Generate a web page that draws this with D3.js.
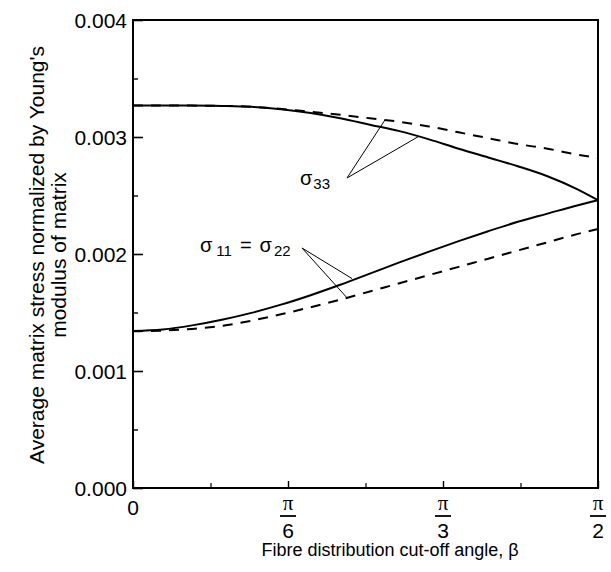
<!DOCTYPE html>
<html><head><meta charset="utf-8">
<script src="https://cdn.jsdelivr.net/npm/d3@7"></script>
<style>
body{margin:0;background:#fff;}
text{font-family:"Liberation Sans",Arial,Helvetica,sans-serif;fill:#000;}
</style></head>
<body><svg id="c" width="611" height="572"></svg>
<script>
// beta in radians, normalized stress
const s33SolidBeta = [0, 0.2, 0.3, 0.4, 0.5, 0.6, 0.7, 0.8, 0.9, 1.0, 1.1, 1.2, 1.3, 1.4, 1.5, 1.5708];
const s33SolidVal  = [0.00327, 0.00327, 0.003266, 0.003258, 0.003238, 0.003205, 0.00316, 0.003105, 0.00305, 0.00298, 0.0029, 0.002825, 0.00275, 0.002665, 0.002555, 0.00246];
const s33DashBeta  = [0, 0.3, 0.45, 0.574, 0.70, 0.80, 0.90, 1.0, 1.1, 1.2, 1.3, 1.4, 1.5, 1.5708];
const s33DashVal   = [0.00327, 0.003266, 0.00325, 0.003222, 0.00319, 0.00316, 0.00313, 0.00309, 0.00304, 0.00299, 0.00294, 0.00290, 0.00285, 0.00282];
const s11SolidBeta = [0, 0.1, 0.2, 0.3, 0.4, 0.5, 0.6, 0.7, 0.8, 0.9, 1.0, 1.1, 1.2, 1.3, 1.4, 1.5, 1.5708];
const s11SolidVal  = [0.001342, 0.001355, 0.00139, 0.001438, 0.001497, 0.001567, 0.001648, 0.001737, 0.001832, 0.001928, 0.00202, 0.00211, 0.002195, 0.002275, 0.002345, 0.002415, 0.00246];
const s11DashBeta  = [0, 0.1, 0.2, 0.3, 0.4, 0.5, 0.6, 0.7, 0.8, 0.9, 1.0, 1.1, 1.2, 1.3, 1.4, 1.5, 1.5708];
const s11DashVal   = [0.00134, 0.001345, 0.00136, 0.001385, 0.00143, 0.001485, 0.001545, 0.00161, 0.00168, 0.00175, 0.00182, 0.00189, 0.00196, 0.00203, 0.0021, 0.00217, 0.002214];
const yTicks = [0, 0.001, 0.002, 0.003, 0.004];
const yTickLabels = ["0.000", "0.001", "0.002", "0.003", "0.004"];
const yMinor = [0.0005, 0.0015, 0.0025, 0.0035];
const xTicks = [0, Math.PI/6, Math.PI/3, Math.PI/2];
const xTickDen = ["", "6", "3", "2"];
const xMinor = [Math.PI/12, Math.PI/4, 5*Math.PI/12];
const xLabel = "Fibre distribution cut-off angle, β";
const yLabel1 = "Average matrix stress normalized by Young's";
const yLabel2 = "modulus of matrix";

const svg = d3.select("#c");
const L = 133, R = 598, T = 20, B = 488;
const x = d3.scaleLinear().domain([0, Math.PI/2]).range([L, R]);
const y = d3.scaleLinear().domain([0, 0.004]).range([B, T]);

// frame
svg.append("rect").attr("x", L).attr("y", T).attr("width", R-L).attr("height", B-T)
  .attr("fill", "none").attr("stroke", "#000").attr("stroke-width", 2);

// y axis ticks (inward)
const yAx = svg.append("g").attr("transform", `translate(${L},0)`)
  .call(d3.axisRight(y).tickValues(yTicks).tickSize(10).tickFormat(""));
yAx.select(".domain").remove();
yAx.selectAll("line").attr("stroke-width", 1.6);
const yAxm = svg.append("g").attr("transform", `translate(${L},0)`)
  .call(d3.axisRight(y).tickValues(yMinor).tickSize(5).tickFormat(""));
yAxm.select(".domain").remove();
yAxm.selectAll("line").attr("stroke-width", 1.4);
svg.selectAll(".ylab").data(yTicks).enter().append("text")
  .attr("x", L-6).attr("y", d => y(d)).attr("dy", "0.36em")
  .attr("text-anchor", "end").attr("font-size", 21).text((d, i) => yTickLabels[i]);

// x axis ticks (inward)
const xAx = svg.append("g").attr("transform", `translate(0,${B})`)
  .call(d3.axisTop(x).tickValues(xTicks).tickSize(7).tickFormat(""));
xAx.select(".domain").remove();
xAx.selectAll("line").attr("stroke-width", 1.4);
const xAxm = svg.append("g").attr("transform", `translate(0,${B})`)
  .call(d3.axisTop(x).tickValues(xMinor).tickSize(5).tickFormat(""));
xAxm.select(".domain").remove();
xAxm.selectAll("line").attr("stroke-width", 1.2);

// x tick labels
svg.append("text").attr("x", x(0)).attr("y", 515).attr("text-anchor", "middle")
  .attr("font-size", 21).text("0");
xTicks.forEach((t, i) => {
  if (i === 0) return;
  const g = svg.append("g");
  g.append("text").attr("x", x(t)).attr("y", 510).attr("text-anchor", "middle")
    .attr("font-size", 21).style("font-family", "'Liberation Serif','DejaVu Serif',serif").text("π");
  g.append("line").attr("x1", x(t)-8).attr("x2", x(t)+8).attr("y1", 516).attr("y2", 516)
    .attr("stroke", "#000").attr("stroke-width", 1.8);
  g.append("text").attr("x", x(t)).attr("y", 538).attr("text-anchor", "middle")
    .attr("font-size", 21).text(xTickDen[i]);
});

// axis labels
svg.append("text").attr("x", 390).attr("y", 556).attr("text-anchor", "middle")
  .attr("font-size", 18).text(xLabel);
svg.append("text").attr("transform", "translate(44,255) rotate(-90)")
  .attr("text-anchor", "middle").attr("font-size", 21).text(yLabel1);
svg.append("text").attr("transform", "translate(66,255) rotate(-90)")
  .attr("text-anchor", "middle").attr("font-size", 21).text(yLabel2);

// curves
const line = d3.line().x(d => x(d[0])).y(d => y(d[1])).curve(d3.curveMonotoneX);
const series = [
  [s33SolidBeta, s33SolidVal, false],
  [s33DashBeta, s33DashVal, true],
  [s11SolidBeta, s11SolidVal, false],
  [s11DashBeta, s11DashVal, true]
];
series.forEach(([b, v, dash]) => {
  svg.append("path").datum(b.map((d, i) => [d, v[i]])).attr("d", line)
    .attr("fill", "none").attr("stroke", "#000").attr("stroke-width", 2)
    .attr("stroke-dasharray", dash ? "10,8" : null);
});

// annotations
const t1 = svg.append("text").attr("x", 300).attr("y", 185).attr("font-size", 20);
t1.append("tspan").text("σ");
t1.append("tspan").attr("font-size", 15).attr("dy", 4).attr("dx", 1).text("33");

const t2 = svg.append("text").attr("x", 200).attr("y", 252).attr("font-size", 20);
t2.append("tspan").text("σ");
t2.append("tspan").attr("font-size", 15).attr("dy", 4).attr("dx", 4).text("11");
t2.append("tspan").attr("dy", -4).attr("dx", 8).text("=");
t2.append("tspan").attr("dx", 8).text("σ");
t2.append("tspan").attr("font-size", 15).attr("dy", 4).attr("dx", 2).text("22");

const leaders = [
  [[347, 178], [0.851, 0.003145]],
  [[347, 178], [0.965, 0.003005]],
  [[302, 248], [0.74, 0.00179]],
  [[302, 248], [0.725, 0.00162]]
];
leaders.forEach(([a, p]) => {
  svg.append("line").attr("x1", a[0]).attr("y1", a[1]).attr("x2", x(p[0])).attr("y2", y(p[1]))
    .attr("stroke", "#000").attr("stroke-width", 1);
});
</script></body></html>
